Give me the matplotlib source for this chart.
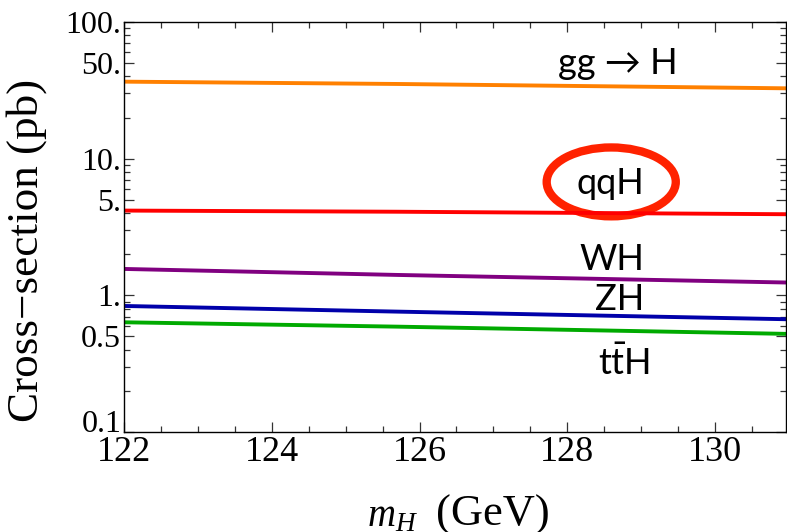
import matplotlib
matplotlib.use("Agg")
import matplotlib.pyplot as plt
from matplotlib.patches import Ellipse
import numpy as np

plt.rcParams["mathtext.fontset"] = "custom"
plt.rcParams["mathtext.rm"] = "Lato"
plt.rcParams["mathtext.it"] = "Liberation Serif:italic"

# ---- data ----
mass = [122.0, 125.7, 131.0]
sigma_ggH = [36.6, 35.2, 32.7]
sigma_qqH = [4.17, 4.09, 3.92]
sigma_WH = [1.56, 1.41, 1.24]
sigma_ZH = [0.836, 0.76, 0.668]
sigma_ttH = [0.635, 0.59, 0.522]

series = [sigma_ggH, sigma_qqH, sigma_WH, sigma_ZH, sigma_ttH]
series_names = ["gg \u2192 H", "qqH", "WH", "ZH", r"t$\bar{\mathrm{t}}$H"]
colors = ["#FF8000", "#FF0000", "#800080", "#0000AA", "#00AA00"]

yticks = [0.1, 0.5, 1, 5, 10, 50, 100]
yticklabels = ["0.1", "0.5", "1.", "5.", "10.", "50.", "100."]
xticks = [122, 124, 126, 128, 130]
xticklabels = ["122", "124", "126", "128", "130"]

# ---- figure ----
fig = plt.figure(figsize=(7.87, 5.32), dpi=100)
ax = fig.add_axes([124/787, 100/532, (786-124)/787, 410/532])

for vals, c in zip(series, colors):
    ax.plot(mass, vals, color=c, lw=2.8, solid_capstyle="butt")

ax.set_yscale("log")
ax.set_ylim(0.1, 100)
ax.set_xlim(122, 130.96)

ax.set_yticks(yticks)
ax.set_yticklabels(yticklabels)
minor_y = [m * d for d in (0.1, 1, 10) for m in range(2, 10) if m * d not in yticks]
ax.set_yticks(minor_y, minor=True)
ax.set_xticks(xticks)
ax.set_xticklabels(xticklabels)
ax.set_xticks(np.arange(122, 131, 0.5), minor=True)

serif = ["Liberation Serif", "DejaVu Serif"]
for lab in ax.get_yticklabels():
    lab.set_family(serif)
    lab.set_fontsize(23)
for lab in ax.get_xticklabels():
    lab.set_family(serif)
    lab.set_fontsize(26)
# lowest y label sits on the axis line, as in the reference
ax.yaxis.get_major_ticks()[0].label1.set_va("baseline")

ax.tick_params(which="both", direction="in", top=True, right=True, width=0.9, color="#333333")
ax.tick_params(which="major", length=7)
ax.tick_params(which="minor", length=4)
ax.tick_params(axis="y", which="major", pad=2)
ax.tick_params(axis="x", which="major", pad=3)
for s in ax.spines.values():
    s.set_linewidth(1.0)

fig.text(27/787, (532-250)/532, "Cross\u2212section (pb)", family=serif, fontsize=32.5,
         rotation=90, ha="center", va="center")
fig.text(418/787, 6/532, r"$m_H$", family=serif, fontsize=28,
         ha="right", va="baseline")
fig.text(436/787, 6/532, "(GeV)", family=serif, fontsize=32,
         ha="left", va="baseline")

# ---- process labels ----
sans = ["Lato", "DejaVu Sans"]
label_pos = [(0.746, 0.898), (0.734, 0.607), (0.737, 0.420), (0.749, 0.322), (0.755, 0.168)]
for name, (lx, ly) in zip(series_names, label_pos):
    ax.text(lx, ly, name, transform=ax.transAxes, ha="center", va="center",
            fontsize=26, family=sans, color="black")

ell = Ellipse((0.736, 0.610), 0.195, 0.168, transform=ax.transAxes,
              fill=False, edgecolor="#FF2200", lw=6)
ax.add_patch(ell)

fig.savefig("out.png", dpi=100)
